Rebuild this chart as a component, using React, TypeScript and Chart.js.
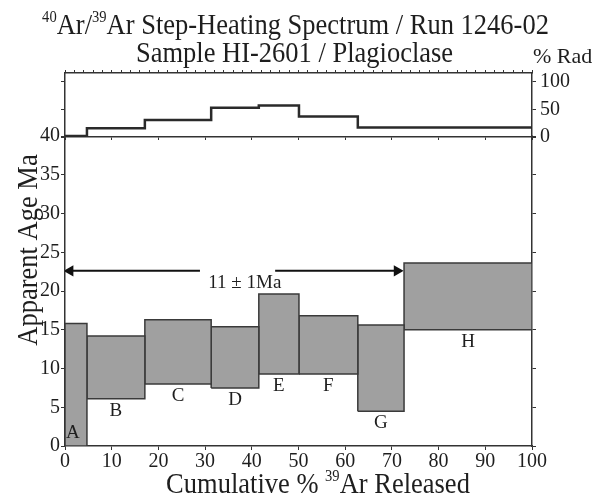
import React, { useEffect, useRef } from 'react';
import { Chart, registerables } from 'chart.js';

Chart.register(...registerables);

// ---- data ----
const stepLabels = ['A', 'B', 'C', 'D', 'E', 'F', 'G', 'H'];
const stepStart = [0, 4.7, 17.1, 31.3, 41.5, 50.1, 62.7, 72.6];
const stepEnd = [4.7, 17.1, 31.3, 41.5, 50.1, 62.7, 72.6, 100];
const ageHigh = [15.8, 14.2, 16.3, 15.4, 19.6, 16.8, 15.6, 23.6];
const ageLow = [0, 6.1, 8.0, 7.5, 9.3, 9.3, 4.5, 15.0];
const radPercent = [2, 16, 31, 53, 57, 37, 17, 17];

const ageTicks = [0, 5, 10, 15, 20, 25, 30, 35, 40];
const radTicks = [0, 50, 100];
const releaseTicks = [0, 10, 20, 30, 40, 50, 60, 70, 80, 90, 100];

const plateauAge = 22.6;
const plateauLeft = [1.1, 28.9];
const plateauRight = [45, 71.1];
const plateauLabel = '11 \u00B1 1Ma';
const plateauLabelX = 38.5;
const plateauLabelAge = 21.0;

const titleLine1 = [
  { t: '40', sup: true },
  { t: 'Ar/', sup: false },
  { t: '39', sup: true },
  { t: 'Ar Step-Heating Spectrum / Run 1246-02', sup: false },
];
const titleLine2 = [{ t: 'Sample HI-2601 / Plagioclase', sup: false }];
const xTitle = [
  { t: 'Cumulative % ', sup: false },
  { t: '39', sup: true },
  { t: 'Ar Released', sup: false },
];
const yTitle = 'Apparent Age Ma';
const radTitle = '% Rad';

const FONT = "'Liberation Serif', 'Times New Roman', serif";
const INK = '#1e1e1e';
const LINE = '#333333';
const BOX_FILL = '#a0a0a0';
const BOX_EDGE = '#3a3a3a';
const STRETCH = 1.12;

const W = 596;
const H = 495;

type Seg = { t: string; sup: boolean };

function drawRich(ctx: CanvasRenderingContext2D, segs: Seg[], cx: number, baseline: number, size: number) {
  const supSize = size * 0.55;
  let total = 0;
  const widths: number[] = [];
  for (const s of segs) {
    ctx.font = `${s.sup ? supSize : size}px ${FONT}`;
    const w = ctx.measureText(s.t).width;
    widths.push(w);
    total += w;
  }
  ctx.save();
  ctx.translate(0, baseline);
  ctx.scale(1, STRETCH);
  let x = cx - total / 2;
  ctx.textAlign = 'left';
  ctx.textBaseline = 'alphabetic';
  segs.forEach((s, i) => {
    ctx.font = `${s.sup ? supSize : size}px ${FONT}`;
    ctx.fillText(s.t, x, s.sup ? -size * 0.42 : 0);
    x += widths[i];
  });
  ctx.restore();
}

function fixedTicks(values: number[]) {
  return (scale: any) => {
    scale.ticks = values.map((v) => ({ value: v }));
  };
}

const gridTicksOnly = (len: number) => ({
  drawOnChartArea: false,
  drawTicks: true,
  tickLength: len,
  color: LINE,
  lineWidth: 1,
});
const border = { display: true, color: LINE, width: 1.5 };

export default function App() {
  const topRef = useRef<HTMLCanvasElement>(null);
  const botRef = useRef<HTMLCanvasElement>(null);

  useEffect(() => {
    if (!topRef.current || !botRef.current) return;

    // ---------- top panel: % Rad ----------
    const radPoints = stepStart.map((x, i) => ({ x, y: radPercent[i] }));
    radPoints.push({ x: stepEnd[stepEnd.length - 1], y: radPercent[radPercent.length - 1] });

    const topTextPlugin = {
      id: 'topText',
      afterDraw(chart: any) {
        const ctx = chart.ctx as CanvasRenderingContext2D;
        ctx.save();
        ctx.fillStyle = INK;
        const cx = (chart.chartArea.left + chart.chartArea.right) / 2;
        drawRich(ctx, titleLine1, cx - 3, 34, 26.5);
        drawRich(ctx, titleLine2, cx - 4, 62, 26.5);
        ctx.font = `22px ${FONT}`;
        ctx.textAlign = 'left';
        ctx.textBaseline = 'alphabetic';
        ctx.fillText(radTitle, chart.chartArea.right + 1, 63);
        ctx.restore();
      },
    };

    const top = new Chart(topRef.current, {
      type: 'line',
      data: {
        datasets: [
          {
            data: radPoints,
            stepped: true,
            borderColor: '#2a2a2a',
            borderWidth: 2.5,
            pointRadius: 0,
            fill: false,
          },
        ],
      },
      options: {
        animation: false,
        responsive: false,
        devicePixelRatio: 1,
        layout: { padding: { top: 70, bottom: H - 137 - 3, left: 0, right: 0 } },
        plugins: { legend: { display: false }, tooltip: { enabled: false }, title: { display: false } },
        scales: {
          x: {
            type: 'linear',
            position: 'bottom',
            min: 0,
            max: 100,
            ticks: { display: false, stepSize: 10 },
            grid: gridTicksOnly(3),
            border,
            afterFit: (s: any) => {
              s.height = 3;
            },
          },
          xTop: {
            type: 'linear',
            position: 'top',
            min: 0,
            max: 100,
            ticks: { display: false, stepSize: 2 },
            grid: gridTicksOnly(3),
            border,
            afterFit: (s: any) => {
              s.height = 3;
            },
          },
          y: {
            type: 'linear',
            position: 'left',
            min: 0,
            max: 116,
            ticks: { display: false },
            afterBuildTicks: fixedTicks(radTicks),
            grid: gridTicksOnly(4),
            border,
            afterFit: (s: any) => {
              s.width = 65;
            },
          },
          yR: {
            type: 'linear',
            position: 'right',
            min: 0,
            max: 116,
            ticks: { color: INK, font: { family: FONT, size: 20 }, padding: 4 },
            afterBuildTicks: fixedTicks(radTicks),
            grid: gridTicksOnly(4),
            border,
            afterFit: (s: any) => {
              s.width = W - 532;
            },
          },
        },
      },
      plugins: [topTextPlugin],
    } as any);

    // ---------- bottom panel: age spectrum ----------
    const boxSets = stepLabels.map((lab, i) => ({
      label: lab,
      data: [
        { x: stepStart[i], y: ageLow[i] },
        { x: stepStart[i], y: ageHigh[i] },
        { x: stepEnd[i], y: ageHigh[i] },
        { x: stepEnd[i], y: ageLow[i] },
        { x: stepStart[i], y: ageLow[i] },
      ],
      fill: 'shape',
      backgroundColor: BOX_FILL,
      borderColor: BOX_EDGE,
      borderWidth: 1.5,
      pointRadius: 0,
      tension: 0,
    }));

    const arrowSets = [
      {
        label: 'plateau-left',
        data: plateauLeft.map((x) => ({ x, y: plateauAge })),
        borderColor: '#111',
        borderWidth: 2,
        backgroundColor: '#111',
        pointBackgroundColor: '#111',
        pointBorderColor: '#111',
        pointStyle: 'triangle',
        pointRadius: [4.5, 0],
        pointRotation: [-90, 0],
        fill: false,
      },
      {
        label: 'plateau-right',
        data: plateauRight.map((x) => ({ x, y: plateauAge })),
        borderColor: '#111',
        borderWidth: 2,
        backgroundColor: '#111',
        pointBackgroundColor: '#111',
        pointBorderColor: '#111',
        pointStyle: 'triangle',
        pointRadius: [0, 4.5],
        pointRotation: [0, 90],
        fill: false,
      },
    ];

    const botTextPlugin = {
      id: 'botText',
      afterDraw(chart: any) {
        const ctx = chart.ctx as CanvasRenderingContext2D;
        const xs = chart.scales.x;
        const ys = chart.scales.y;
        ctx.save();
        ctx.fillStyle = INK;
        // step letters
        ctx.font = `19px ${FONT}`;
        ctx.textAlign = 'center';
        ctx.textBaseline = 'middle';
        stepLabels.forEach((lab, i) => {
          let cx = xs.getPixelForValue((stepStart[i] + stepEnd[i]) / 2);
          let py = ys.getPixelForValue(ageLow[i]) + 12;
          if (ageLow[i] <= 0.5) {
            py = ys.getPixelForValue(0) - 13;
            cx -= 3;
          }
          ctx.fillText(lab, cx, py);
        });
        // plateau label
        ctx.font = `19px ${FONT}`;
        ctx.fillText(plateauLabel, xs.getPixelForValue(plateauLabelX), ys.getPixelForValue(plateauLabelAge));
        // y title
        ctx.save();
        ctx.translate(29, 250);
        ctx.rotate(-Math.PI / 2);
        ctx.scale(1, STRETCH);
        ctx.font = `26.5px ${FONT}`;
        ctx.textAlign = 'center';
        ctx.textBaseline = 'middle';
        ctx.fillText(yTitle, 0, 0);
        ctx.restore();
        // x title
        drawRich(ctx, xTitle, 318, 493, 26.5);
        ctx.restore();
      },
    };

    const bot = new Chart(botRef.current, {
      type: 'line',
      data: { datasets: [...boxSets, ...arrowSets] },
      options: {
        animation: false,
        responsive: false,
        devicePixelRatio: 1,
        layout: { padding: { top: 136, bottom: 0, left: 0, right: 0 } },
        plugins: { legend: { display: false }, tooltip: { enabled: false }, title: { display: false } },
        scales: {
          x: {
            type: 'linear',
            position: 'bottom',
            min: 0,
            max: 100,
            ticks: { color: INK, font: { family: FONT, size: 20 }, padding: 0, stepSize: 10 },
            afterBuildTicks: fixedTicks(releaseTicks),
            grid: gridTicksOnly(4),
            border,
            afterFit: (s: any) => {
              s.height = H - 446;
            },
          },
          y: {
            type: 'linear',
            position: 'left',
            min: 0,
            max: 40,
            ticks: { color: INK, font: { family: FONT, size: 20 }, padding: 1 },
            afterBuildTicks: fixedTicks(ageTicks),
            grid: gridTicksOnly(4),
            border,
            afterFit: (s: any) => {
              s.width = 65;
            },
          },
          yR: {
            type: 'linear',
            position: 'right',
            min: 0,
            max: 40,
            ticks: { display: false },
            afterBuildTicks: fixedTicks(ageTicks),
            grid: gridTicksOnly(4),
            border,
            afterFit: (s: any) => {
              s.width = W - 532;
            },
          },
        },
      },
      plugins: [botTextPlugin],
    } as any);

    return () => {
      top.destroy();
      bot.destroy();
    };
  }, []);

  const canvasStyle: React.CSSProperties = { position: 'absolute', left: 0, top: 0, width: W, height: H };
  return (
    <div style={{ position: 'fixed', left: 0, top: 0, width: W, height: H, background: '#fff' }}>
      <canvas ref={topRef} width={W} height={H} style={canvasStyle} />
      <canvas ref={botRef} width={W} height={H} style={canvasStyle} />
    </div>
  );
}
